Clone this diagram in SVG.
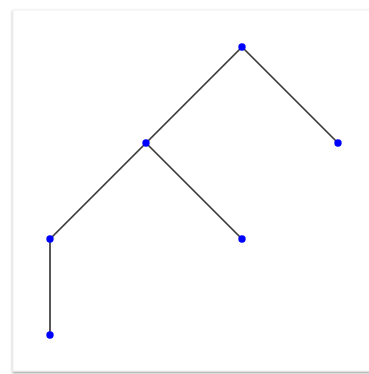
<svg xmlns="http://www.w3.org/2000/svg" width="369" height="374" viewBox="0 0 369 374">
<defs>
<filter id="sh" x="-5%" y="-5%" width="110%" height="110%">
<feDropShadow dx="0" dy="1.5" stdDeviation="1" flood-color="#000" flood-opacity="0.4"/>
</filter>
<style>
.edge{stroke:#3a3a3a;stroke-width:1.7;fill:none}
.dot{fill:#0000ff}
</style>
</defs>
<rect width="369" height="374" fill="#fff"/>
<rect x="13" y="10" width="370" height="361" fill="#fff" stroke="#f0f0f0" stroke-width="1" filter="url(#sh)"/>
<g id="edges">
<line class="edge" x1="242" y1="47" x2="146" y2="143"/>
<line class="edge" x1="242" y1="47" x2="338" y2="143"/>
<line class="edge" x1="146" y1="143" x2="50" y2="239"/>
<line class="edge" x1="146" y1="143" x2="242" y2="239"/>
<line class="edge" x1="50" y1="239" x2="50" y2="335"/>
</g>
<g id="n0"><circle class="dot" cx="242" cy="47" r="3.7"/></g>
<g id="n1"><circle class="dot" cx="146" cy="143" r="3.7"/></g>
<g id="n2"><circle class="dot" cx="338" cy="143" r="3.7"/></g>
<g id="n3"><circle class="dot" cx="50" cy="239" r="3.7"/></g>
<g id="n4"><circle class="dot" cx="242" cy="239" r="3.7"/></g>
<g id="n5"><circle class="dot" cx="50" cy="335" r="3.7"/></g>
</svg>
